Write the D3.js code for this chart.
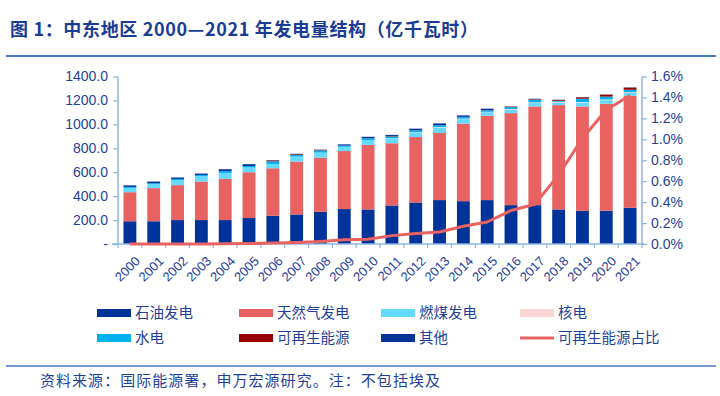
<!DOCTYPE html>
<html>
<head>
<meta charset="utf-8">
<script src="https://cdn.jsdelivr.net/npm/d3@7"></script>
<style>
  body { margin: 0; background: #fff; }
  svg { display: block; font-family: "Liberation Sans", "Noto Sans CJK SC", sans-serif; }
  .cn { font-family: "Noto Sans CJK SC", sans-serif; }
</style>
</head>
<body>
<svg width="720" height="396"></svg>
<script>
// 中东地区发电量结构 2000-2021
const years = d3.range(2000, 2022).map(String);
const oil     = [190,190,200,200,200,217,236,247,269,292,289,322,347,367,358,367,325,325,289,278,278,303];
const gas     = [243,277,292,322,344,383,397,442,453,485,539,520,547,561,648,705,769,825,872,872,894,935];
const coal    = [36,33,42,45,50,40,36,42,42,35,40,42,40,45,38,30,28,28,22,30,30,25];
const nuclear = [0,0,0,0,0,0,0,0,0,0,0,1,2,4,4,3,6,6,6,6,6,6];
const hydro   = [8,8,10,10,15,12,22,15,18,10,15,14,14,16,13,12,16,23,8,28,24,20];
const renew   = [0,0,0,0,0,0,8,6,5,1,1,4,1,1,2,2,4,5,8,12,16,18];
const other   = [13,14,12,12,16,15,2,2,2,10,12,9,13,14,12,12,2,2,1,2,2,2];
const share   = [0,0,0,0,0.002,0.004,0.01,0.015,0.025,0.04,0.045,0.08,0.10,0.115,0.17,0.21,0.32,0.38,0.66,1.01,1.28,1.42];

const leftTicks = [0,200,400,600,800,1000,1200,1400];
const rightTicks = [0,0.2,0.4,0.6,0.8,1.0,1.2,1.4,1.6];

const series = [
  {key: "石油发电", values: oil, color: "#003399"},
  {key: "天然气发电", values: gas, color: "#e86262"},
  {key: "燃煤发电", values: coal, color: "#66d9ff"},
  {key: "核电", values: nuclear, color: "#fbd5d6"},
  {key: "水电", values: hydro, color: "#00b0f0"},
  {key: "可再生能源", values: renew, color: "#990000"},
  {key: "其他", values: other, color: "#06339a"}
];

const svg = d3.select("svg");
const textColor = "#1f3f99";
const axisColor = "#8db4e2";

// title
svg.append("text")
  .attr("class", "cn")
  .attr("x", 10).attr("y", 36)
  .attr("font-size", 18).attr("font-weight", "bold")
  .attr("fill", "#1a3c94")
  .attr("textLength", 468).attr("lengthAdjust", "spacing")
  .text("图 1：中东地区 2000—2021 年发电量结构（亿千瓦时）");
svg.append("line")
  .attr("x1", 6).attr("x2", 716).attr("y1", 56).attr("y2", 56)
  .attr("stroke", "#4a74c4").attr("stroke-width", 2);

const margin = {left: 118, right: 642, top: 76.5, bottom: 244};

const x = d3.scaleBand().domain(years).range([margin.left, margin.right]).paddingInner(0.46).paddingOuter(0.23);
const y = d3.scaleLinear().domain([0, 1400]).range([margin.bottom, margin.top]);
const y2 = d3.scaleLinear().domain([0, 1.6]).range([margin.bottom, margin.top]);

const table = years.map((yr, i) => {
  const row = {year: yr};
  series.forEach(s => { row[s.key] = s.values[i]; });
  return row;
});
const stack = d3.stack().keys(series.map(s => s.key))(table);

svg.append("g")
  .selectAll("g")
  .data(stack)
  .join("g")
  .attr("fill", (d, i) => series[i].color)
  .selectAll("rect")
  .data(d => d)
  .join("rect")
  .attr("x", d => x(d.data.year))
  .attr("width", x.bandwidth())
  .attr("y", d => y(d[1]))
  .attr("height", d => Math.max(0, y(d[0]) - y(d[1])));

// axes
const leftAxis = svg.append("g")
  .attr("transform", `translate(${margin.left},0)`)
  .call(d3.axisLeft(y).tickValues(leftTicks).tickSize(5).tickPadding(5)
    .tickFormat(d => d === 0 ? "-" : d3.format(".1f")(d)));
const rightAxis = svg.append("g")
  .attr("transform", `translate(${margin.right},0)`)
  .call(d3.axisRight(y2).tickValues(rightTicks).tickSize(5).tickPadding(4)
    .tickFormat(d => d3.format(".1f")(d) + "%"));
const xBand = d3.scaleBand().domain(years).range([margin.left, margin.right]);
const bottomAxis = svg.append("g")
  .attr("transform", `translate(0,${margin.bottom})`)
  .call(d3.axisBottom(xBand).tickSize(0).tickPadding(6));

[leftAxis, rightAxis, bottomAxis].forEach(g => {
  g.selectAll("path.domain").attr("stroke", axisColor).attr("stroke-width", 1.5);
  g.selectAll(".tick line").attr("stroke", axisColor).attr("stroke-width", 1.2);
  g.selectAll("text").attr("fill", textColor).attr("font-size", 14);
});
rightAxis.select("path.domain").remove();
rightAxis.append("line").attr("y1", margin.top).attr("y2", margin.bottom)
  .attr("stroke", axisColor).attr("stroke-width", 1.5);
leftAxis.select("path.domain").remove();
leftAxis.append("line").attr("y1", margin.top).attr("y2", margin.bottom)
  .attr("stroke", axisColor).attr("stroke-width", 1.5);
bottomAxis.select("path.domain").remove();
bottomAxis.append("line").attr("x1", margin.left - 6).attr("x2", margin.right + 2)
  .attr("stroke", axisColor).attr("stroke-width", 1.5);
// small ticks between categories
bottomAxis.selectAll("line.sep")
  .data(years.concat(["end"]))
  .join("line")
  .attr("class", "sep")
  .attr("x1", (d, i) => margin.left + i * xBand.step())
  .attr("x2", (d, i) => margin.left + i * xBand.step())
  .attr("y1", 0).attr("y2", 4)
  .attr("stroke", axisColor).attr("stroke-width", 1.2);

bottomAxis.selectAll(".tick text")
  .attr("font-size", 13)
  .attr("text-anchor", "end")
  .attr("transform", "translate(2,9) rotate(-45)")
  .attr("dy", "0.5em")
  .attr("dx", "0");

// renewable share line
const line = d3.line()
  .x((d, i) => x(years[i]) + x.bandwidth() / 2)
  .y(d => y2(d));
svg.append("path")
  .datum(share)
  .attr("fill", "none")
  .attr("stroke", "#e86262")
  .attr("stroke-width", 3)
  .attr("stroke-linejoin", "round")
  .attr("d", line);

// legend
const legendItems = [
  {label: "石油发电", color: "#003399", type: "rect"},
  {label: "天然气发电", color: "#e86262", type: "rect"},
  {label: "燃煤发电", color: "#66d9ff", type: "rect"},
  {label: "核电", color: "#fbd5d6", type: "rect"},
  {label: "水电", color: "#00b0f0", type: "rect"},
  {label: "可再生能源", color: "#990000", type: "rect"},
  {label: "其他", color: "#06339a", type: "rect"},
  {label: "可再生能源占比", color: "#e86262", type: "line"}
];
const colX = [97, 239, 381, 520];
const rowY = [313, 338];
const legend = svg.append("g")
  .selectAll("g")
  .data(legendItems)
  .join("g")
  .attr("transform", (d, i) => `translate(${colX[i % 4]},${rowY[Math.floor(i / 4)]})`);
legend.filter(d => d.type === "rect").append("rect")
  .attr("x", 0).attr("y", -4).attr("width", 34).attr("height", 8)
  .attr("fill", d => d.color);
legend.filter(d => d.type === "line").append("line")
  .attr("x1", 0).attr("x2", 34).attr("y1", 0).attr("y2", 0)
  .attr("stroke", d => d.color).attr("stroke-width", 3);
legend.append("text")
  .attr("class", "cn")
  .attr("x", 38).attr("y", 0).attr("dy", "0.35em")
  .attr("font-size", 14.5).attr("fill", textColor)
  .text(d => d.label);

// footer
svg.append("line")
  .attr("x1", 6).attr("x2", 716).attr("y1", 366).attr("y2", 366)
  .attr("stroke", "#4a74c4").attr("stroke-width", 1.5);
svg.append("text")
  .attr("class", "cn")
  .attr("x", 40).attr("y", 386)
  .attr("font-size", 15).attr("fill", textColor)
  .attr("textLength", 400).attr("lengthAdjust", "spacing")
  .text("资料来源：国际能源署，申万宏源研究。注：不包括埃及");
</script>
</body>
</html>
